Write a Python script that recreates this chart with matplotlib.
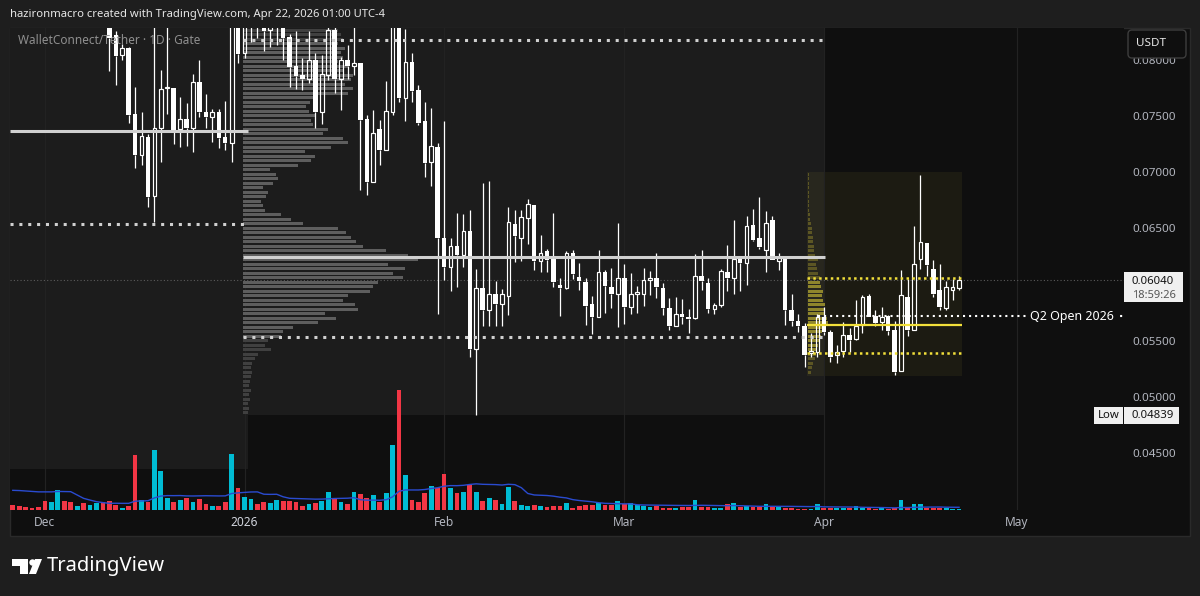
import numpy as np
import pandas as pd
import matplotlib
matplotlib.use("Agg")
import matplotlib.pyplot as plt
import matplotlib.dates as mdates
from matplotlib.patches import Rectangle, FancyBboxPatch, Polygon, Circle
from matplotlib.transforms import Affine2D

plt.rcParams["font.family"] = ["Noto Sans", "DejaVu Sans"]

# daily candles, Nov 26 2025 -> Apr 22 2026 (WalletConnect/Tether, Gate)
dates = pd.date_range("2025-11-26", "2026-04-22", freq="D")

opens = [
    .0960, .0948, .0938, .0930, .0925, .0918, .0895, .0912, .0925, .0900,
    .0880, .0898, .0868, .0880, .0886, .0852, .0822, .0804, .0810, .0752,
    .0715, .0731, .0679, .0739, .0775, .0775, .0738, .0747, .0739, .0780,
    .0753, .0749, .0753, .0731, .0726, .0868, .0806, .0840, .0855, .0838,
    .0826, .0830, .0845, .0820, .0794, .0786, .0783, .0800, .0753, .0786,
    .0826, .0783, .0800, .0794, .0797, .0747, .0691, .0738, .0720, .0753,
    .0845, .0766, .0798, .0773, .0745, .0709, .0722, .0641, .0616, .0634,
    .0626, .0648, .0543, .0597, .0577, .0592, .0583, .0590, .0654, .0641,
    .0659, .0671, .0621, .0630, .0623, .0600, .0597, .0628, .0607, .0602,
    .0583, .0571, .0611, .0598, .0592, .0606, .0580, .0592, .0592, .0604,
    .0606, .0597, .0579, .0563, .0574, .0571, .0570, .0608, .0601, .0578,
    .0582, .0611, .0606, .0623, .0619, .0653, .0641, .0631, .0657, .0621,
    .0624, .0577, .0568, .0563, .0539, .0540, .0571, .0558, .0537, .0541,
    .0555, .0552, .0564, .0590, .0572, .0567, .0572, .0560, .0523, .0589,
    .0560, .0623, .0637, .0614, .0595, .0579, .0595, .0597]
highs = [
    .0975, .0958, .0945, .0938, .0932, .0925, .0920, .0935, .0930, .0908,
    .0905, .0902, .0885, .0892, .0890, .0858, .0825, .0814, .0811, .0776,
    .0753, .0734, .0835, .0791, .0835, .0775, .0767, .0761, .0787, .0800,
    .0769, .0756, .0756, .0763, .0880, .0885, .0862, .0870, .0868, .0845,
    .0845, .0855, .0852, .0823, .0825, .0801, .0825, .0806, .0804, .0829,
    .0830, .0802, .0813, .0829, .0797, .0751, .0755, .0746, .0781, .0870,
    .0880, .0827, .0806, .0777, .0762, .0757, .0726, .0745, .0641, .0664,
    .0663, .0666, .0614, .0690, .0692, .0603, .0596, .0669, .0666, .0666,
    .0676, .0671, .0644, .0632, .0664, .0606, .0630, .0631, .0619, .0606,
    .0590, .0631, .0613, .0615, .0655, .0618, .0610, .0599, .0615, .0612,
    .0628, .0601, .0588, .0589, .0587, .0578, .0627, .0631, .0606, .0584,
    .0614, .0635, .0657, .0623, .0661, .0667, .0678, .0665, .0661, .0628,
    .0624, .0592, .0574, .0566, .0557, .0574, .0580, .0560, .0546, .0567,
    .0561, .0586, .0591, .0592, .0577, .0580, .0573, .0568, .0613, .0605,
    .0652, .0697, .0637, .0622, .0618, .0603, .0605, .0608]
lows = [
    .0940, .0930, .0922, .0915, .0910, .0885, .0888, .0905, .0895, .0872,
    .0875, .0862, .0855, .0865, .0845, .0790, .0777, .0800, .0744, .0704,
    .0706, .0669, .0656, .0709, .0752, .0725, .0722, .0723, .0718, .0749,
    .0739, .0727, .0721, .0720, .0709, .0797, .0801, .0816, .0819, .0808,
    .0811, .0813, .0800, .0776, .0774, .0773, .0779, .0739, .0743, .0782,
    .0770, .0755, .0783, .0786, .0684, .0680, .0691, .0706, .0720, .0751,
    .0762, .0745, .0762, .0742, .0696, .0688, .0574, .0604, .0594, .0598,
    .0616, .0536, .04839, .0563, .0563, .0563, .0563, .0573, .0620, .0621,
    .0636, .0613, .0611, .0611, .0598, .0572, .0596, .0605, .0595, .0564,
    .0556, .0571, .0575, .0579, .0562, .0565, .0574, .0575, .0581, .0591,
    .0588, .0573, .0560, .0563, .0565, .0557, .0569, .0595, .0575, .0574,
    .0580, .0594, .0592, .0594, .0600, .0639, .0632, .0611, .0622, .0613,
    .0564, .0563, .0558, .0527, .0536, .0536, .0555, .0531, .0530, .0536,
    .0540, .0551, .0557, .0571, .0563, .0560, .0555, .0520, .0523, .0554,
    .0560, .0614, .0608, .0589, .0577, .0577, .0586, .0595]
closes = [
    .0948, .0938, .0930, .0925, .0918, .0895, .0912, .0925, .0900, .0880,
    .0898, .0868, .0880, .0886, .0852, .0819, .0803, .0810, .0751, .0715,
    .0732, .0678, .0739, .0774, .0776, .0737, .0747, .0739, .0780, .0753,
    .0749, .0753, .0730, .0726, .0868, .0805, .0850, .0855, .0838, .0825,
    .0835, .0842, .0819, .0793, .0785, .0783, .0800, .0753, .0787, .0826,
    .0783, .0800, .0794, .0797, .0746, .0691, .0735, .0720, .0754, .0845,
    .0766, .0798, .0772, .0744, .0708, .0723, .0641, .0616, .0634, .0626,
    .0648, .0543, .0597, .0577, .0592, .0583, .0592, .0656, .0643, .0660,
    .0672, .0621, .0628, .0622, .0602, .0597, .0628, .0609, .0603, .0581,
    .0571, .0611, .0599, .0592, .0606, .0580, .0592, .0593, .0604, .0606,
    .0598, .0579, .0563, .0574, .0571, .0569, .0608, .0603, .0578, .0582,
    .0612, .0606, .0623, .0619, .0652, .0640, .0633, .0655, .0622, .0624,
    .0577, .0568, .0563, .0537, .0541, .0571, .0558, .0536, .0540, .0555,
    .0551, .0563, .0589, .0571, .0566, .0571, .0559, .0522, .0591, .0560,
    .0618, .0638, .0617, .0592, .0580, .0598, .0598, .0604]

# volume (relative units)
volumes = [
    15, 12, 9, 6, 9, 27, 24, 59, 27, 24, 12, 21, 15, 21, 24, 27, 15, 6, 12, 164,
    30, 24, 179, 117, 36, 24, 30, 36, 24, 33, 18, 12, 12, 24, 167, 67, 39, 33, 18, 24,
    21, 30, 27, 27, 24, 12, 18, 21, 27, 54, 33, 24, 18, 54, 48, 36, 44, 24, 51, 194,
    360, 106, 30, 24, 51, 73, 65, 109, 65, 51, 54, 76, 54, 27, 36, 30,
    18, 70, 27, 15, 12, 15, 12, 9, 12, 12, 21, 6, 12, 15, 15, 21, 15, 15, 27, 18,
    21, 15, 12, 9, 12, 6, 6, 6, 9, 9, 30, 9, 9, 6, 6, 18, 21, 9, 12, 9,
    9, 18, 9, 9, 6, 6, 3, 3, 3, 18, 6, 6, 6, 6, 6, 12, 6, 6, 3, 6,
    3, 6, 30, 6, 18, 18, 6, 6, 6, 6, 3, 3]
# the 19 sessions before Nov 26, only needed for the 20-day volume MA
volumes_before = [25, 35, 28, 40, 30, 22, 33, 36, 28, 210, 223, 120, 116, 80, 71, 10, 12, 11, 35]

# visible range volume profile Jan 1 - Apr 1, rows of 0.0004 from 0.0484 up
vp_row_low, vp_row = 0.0484, 0.0004
vp_volume = [
    5, 6, 5, 7, 6, 8, 6, 7, 8, 9, 8, 9, 12, 15, 28, 22, 25, 38, 40, 50,
    75, 93, 82, 115, 112, 100, 105, 127, 130, 135, 160, 150, 162, 145, 175, 165, 143, 120, 113, 108,
    103, 95, 60, 48, 38, 22, 20, 18, 23, 25, 20, 30, 35, 33, 27, 55, 68, 72, 62, 88,
    105, 100, 80, 85, 70, 68, 72, 66, 63, 67, 70, 105, 110, 102, 108, 110, 100, 105, 95, 100,
    98, 102, 95, 100, 98, 95]
vp_poc, vp_vah, vp_val = 0.06244, 0.08173, 0.05529
dec_poc, dec_val = 0.07364, 0.06538

# Q2 profile (Mar 30 - Apr 22), rows of 0.0004 from 0.0520 up
q2_row_low = 0.0520
q2_volume = [
    3, 4, 5, 7, 8, 9, 10, 11, 13, 14, 18, 20, 19, 17, 16, 17, 15, 14, 15, 13,
    12, 12, 10, 9, 8, 10, 7, 6, 6, 5, 5, 4, 4, 3, 2, 2, 1, 1, 1, 1,
    1, 1, 1, 1, 1]
q2_poc, q2_vah, q2_val = 0.0564, 0.06055, 0.05394
q2_open = 0.0572
q2_box_low, q2_box_high = 0.05187, 0.0700

last_price, range_low = 0.0604, 0.04839
price_ticks = [0.045, 0.050, 0.055, 0.065, 0.070, 0.075, 0.080]
month_ticks = ["2025-12-01", "2026-01-01", "2026-02-01", "2026-03-01", "2026-04-01", "2026-05-01"]
month_labels = ["Dec", "2026", "Feb", "Mar", "Apr", "May"]

# ---------------------------------------------------------------- figure
W, H = 1200, 596
PX_PER_DAY = 6.437
BG, PANE, GREYBOX = "#1e1e1e", "#0f0f0f", "#1c1c1c"
TXT = "#b2b5be"
fig = plt.figure(figsize=(W / 100, H / 100), dpi=100)
fig.patch.set_facecolor(BG)
px = Affine2D().scale(1 / W, -1 / H).translate(0, 1) + fig.transFigure

fig.add_artist(Rectangle((10, 28), 1180, 508, transform=px, facecolor=PANE,
                         edgecolor="#2a2a2a", lw=1, zorder=-1))

ax = fig.add_axes([10 / W, 1 - 510 / H, 1114 / W, 482 / H])
ax.set_facecolor(PANE)
for s in ax.spines.values():
    s.set_visible(False)

x = mdates.date2num(dates)
o, h, l, c = map(np.array, (opens, highs, lows, closes))
x0 = x[0]
xmin, xmax = x0 - 0.435, x0 + 172.63
ymin, ymax = 0.039956, 0.0828
ax.set_xlim(xmin, xmax)
ax.set_ylim(ymin, ymax)


def day(s, off=0.0):
    return mdates.date2num(pd.Timestamp(s)) + off


p1_end = day("2026-01-01", 0.55)
p2_start = day("2026-01-01", -0.25)
p2_end = day("2026-04-01", 0.2)
yb_start = day("2026-03-29", 0.38)
yb_end = day("2026-04-22", 0.46)

# background ranges of the two volume profiles
ax.add_patch(Rectangle((xmin, 0.0436), p1_end - xmin, 0.05, facecolor=GREYBOX, lw=0, zorder=1))
ax.add_patch(Rectangle((p2_start, range_low), p2_end - p2_start, 0.05, facecolor=GREYBOX, lw=0, zorder=1))
ax.add_patch(Rectangle((yb_start, q2_box_low), yb_end - yb_start, q2_box_high - q2_box_low,
                       facecolor="#d4c43a", alpha=0.07, lw=0, zorder=1.2))

# month grid
for m in month_ticks:
    ax.plot([day(m)] * 2, [ymin, ymax], color="#222222", lw=0.8, zorder=1.5)

# volume profile rows
vp_levels = vp_row_low + vp_row / 2 + vp_row * np.arange(len(vp_volume))
vp_colors = ["#5e5e5e" if vp_val <= p <= vp_vah else "#404040" for p in vp_levels]
ax.barh(vp_levels, np.array(vp_volume) / PX_PER_DAY, left=p2_start, height=vp_row * 0.7,
        color=vp_colors, lw=0, zorder=2)

q2_levels = q2_row_low + vp_row / 2 + vp_row * np.arange(len(q2_volume))
q2_colors = ["#8f862c" if q2_val <= p <= q2_vah else "#5c5624" for p in q2_levels]
ax.barh(q2_levels, np.array(q2_volume) / PX_PER_DAY, left=yb_start + 0.1, height=vp_row * 0.6,
        color=q2_colors, lw=0, zorder=2)

# current price line
ax.axhline(last_price, color="#5c5c5c", lw=0.8, ls=(0, (1, 2)), zorder=3)

# candles
up = c >= o
lo_b, hi_b = np.minimum(o, c), np.maximum(o, c)
hgt = np.maximum(hi_b - lo_b, 0.00009)
ax.vlines(x, l, lo_b, color="white", lw=0.9, zorder=4)
ax.vlines(x, hi_b, h, color="white", lw=0.9, zorder=4)
ax.bar(x[~up], hgt[~up], bottom=lo_b[~up], width=0.7, color="white", lw=0, zorder=4)
ax.bar(x[up], hgt[up], bottom=lo_b[up], width=0.58, facecolor="none", edgecolor="white",
       lw=0.85, zorder=4)

# profile levels
dots = (0, (1, 1.9))
grey = "#d0d0d0"
ax.plot([xmin, p1_end], [dec_poc] * 2, color=grey, lw=2.2, zorder=5, solid_capstyle="butt")
ax.plot([xmin, p1_end], [dec_val] * 2, color=grey, lw=2.2, ls=dots, zorder=5)
ax.plot([p2_start, p2_end], [vp_poc] * 2, color=grey, lw=2.2, zorder=5, solid_capstyle="butt")
ax.plot([p2_start, p2_end], [vp_vah] * 2, color=grey, lw=2.2, ls=dots, zorder=5)
ax.plot([p2_start, p2_end], [vp_val] * 2, color=grey, lw=2.2, ls=dots, zorder=5)

yellow = "#f2e03a"
ax.plot([yb_start, yb_end], [q2_poc] * 2, color=yellow, lw=1.6, zorder=5, solid_capstyle="butt")
ax.plot([yb_start, yb_end], [q2_vah] * 2, color=yellow, lw=1.8, ls=(0, (1, 1.33)), zorder=5)
ax.plot([yb_start, yb_end], [q2_val] * 2, color=yellow, lw=1.8, ls=(0, (1, 1.33)), zorder=5)

ax.plot([day("2026-03-31", 0.1), xmax], [q2_open] * 2, color="white", lw=1.5,
        ls=(0, (1, 1.9)), zorder=5)
ax.text(day("2026-05-09", 0.5), q2_open, "Q2 Open 2026", color="white", fontsize=9,
        fontweight="bold", ha="center", va="center", zorder=6,
        bbox=dict(facecolor=PANE, edgecolor="none", pad=2.5))

# volume pane
axv = ax.twinx()
axv.set_ylim(0, 1446)
axv.set_yticks([])
for s in axv.spines.values():
    s.set_visible(False)
vol_colors = np.where(up, "#00bcd4", "#f23645")
axv.bar(x, volumes, width=0.74, color=vol_colors, lw=0)
vol_ma = pd.Series(volumes_before + volumes).rolling(20).mean().to_numpy()[len(volumes_before):]
axv.plot(x, vol_ma, color="#2a4bd0", lw=1)

# axes ticks
ax.yaxis.tick_right()
ax.set_yticks(price_ticks)
ax.set_yticklabels([f"{t:.5f}" for t in price_ticks])
ax.tick_params(axis="y", length=0, pad=6, labelsize=8.4, labelcolor=TXT)
ax.set_xticks([day(m) for m in month_ticks])
ax.set_xticklabels(month_labels)
ax.tick_params(axis="x", length=0, pad=4, labelsize=8.6, labelcolor=TXT)
ax.get_xticklabels()[1].set_fontweight("bold")
ax.get_xticklabels()[1].set_color("#d1d4dc")

# header / labels
fig.text(10, 14, "hazironmacro created with TradingView.com, Apr 22, 2026 01:00 UTC-4",
         transform=px, color="#e6e6e6", fontsize=8.1, fontweight="bold", va="center")
fig.text(18, 41, "WalletConnect/Tether \u00b7 1D \u00b7 Gate", transform=px, color="#8f8f8f",
         fontsize=8.5, va="center")

fig.add_artist(FancyBboxPatch((1128, 30), 58, 28, boxstyle="round,pad=0,rounding_size=4",
                              transform=px, facecolor=PANE, edgecolor="#3d3d3d", lw=1, zorder=6))
fig.text(1136, 44, "USDT", transform=px, color="#e6e6e6", fontsize=8.4, va="center", zorder=7)

fig.add_artist(Rectangle((1124, 272), 59, 30, transform=px, facecolor="#f0f0f0", lw=0, zorder=6))
fig.text(1132, 281, f"{last_price:.5f}", transform=px, color="#131313", fontsize=8.2, va="center", zorder=7)
fig.text(1132, 295, "18:59:26", transform=px, color="#555555", fontsize=8, va="center", zorder=7)

fig.add_artist(Rectangle((1094, 407), 29, 17, transform=px, facecolor="#f0f0f0", lw=0, zorder=6))
fig.add_artist(Rectangle((1124, 407), 55, 17, transform=px, facecolor="#f0f0f0", lw=0, zorder=6))
fig.text(1108.5, 415.5, "Low", transform=px, color="#131313", fontsize=8.2, ha="center", va="center", zorder=7)
fig.text(1132, 415.5, f"{range_low:.5f}", transform=px, color="#131313", fontsize=8.2, va="center", zorder=7)

# TradingView logo
fig.add_artist(Polygon([(12, 559), (28, 559), (28, 574), (20, 574), (20, 566), (12, 566)],
                       transform=px, facecolor="white", lw=0))
fig.add_artist(Circle((32.5, 562.5), 3.2, transform=px, facecolor="white", lw=0))
fig.add_artist(Polygon([(35, 559), (42, 559), (36, 574), (29, 574)], transform=px,
                       facecolor="white", lw=0))
fig.text(47, 566, "TradingView", transform=px, color="white", fontsize=14.5, fontweight="bold",
         va="center")

fig.savefig("out.png", dpi=100, facecolor=BG)
